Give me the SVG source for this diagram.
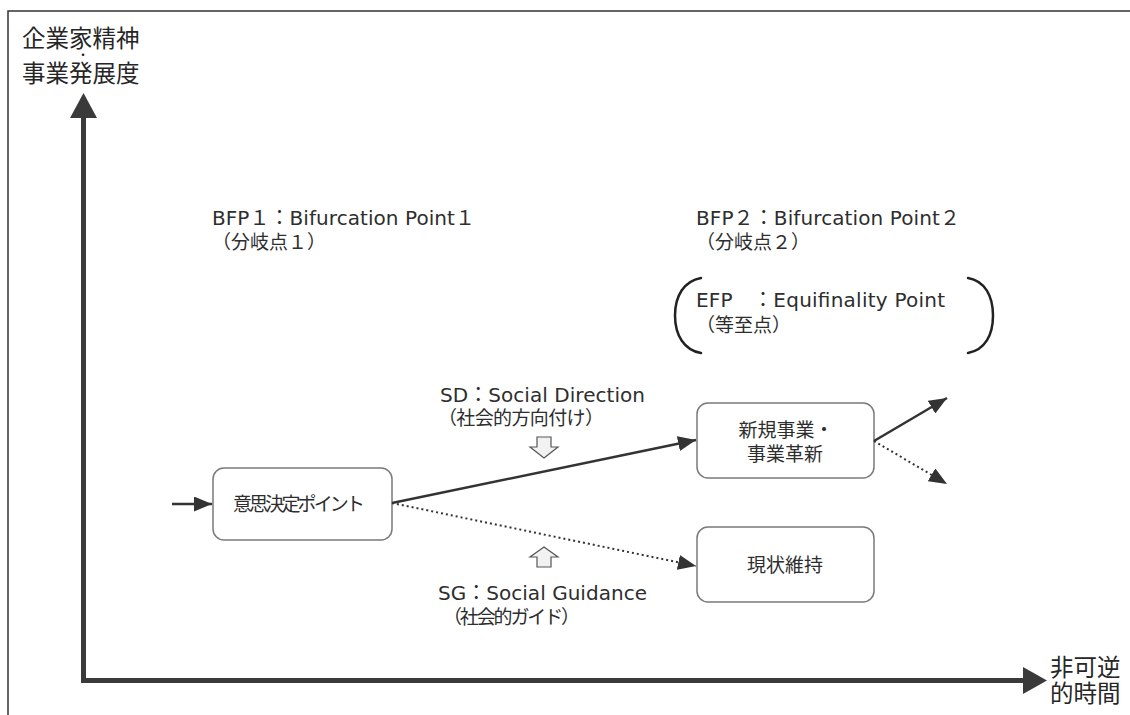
<svg xmlns="http://www.w3.org/2000/svg" width="1130" height="715" viewBox="0 0 1130 715">
  <style>
    text { font-family: "DejaVu Sans", "Noto Sans CJK JP", sans-serif; fill: #2e2e2e; }
    .lbl { font-size: 20px; }
    .jp { font-family: "Noto Sans CJK JP", sans-serif; font-size: 19px; }
    .node { font-family: "Noto Sans CJK JP", sans-serif; font-size: 19px; }
    .axis-lbl { font-family: "Noto Sans CJK JP", sans-serif; font-size: 23.5px; fill: #262626; }
    .box { fill: #ffffff; stroke: #7a7a7a; stroke-width: 1.5; }
    .solid { fill: none; stroke: #333333; stroke-width: 2.5; }
    .dotted { fill: none; stroke: #333333; stroke-width: 2; stroke-dasharray: 2 3; }
    .hollow { fill: #f2f2f2; stroke: #555555; stroke-width: 1.2; stroke-linejoin: miter; }
    .axis { fill: none; stroke: #3a3a3a; stroke-width: 5; stroke-linejoin: miter; }
    .head { fill: #3a3a3a; }
    .bracket { fill: none; stroke: #222222; stroke-width: 2.5; stroke-linecap: round; }
  </style>
  <defs>
    <marker id="arrow" markerUnits="userSpaceOnUse" markerWidth="18" markerHeight="15" refX="18" refY="7.5" orient="auto">
      <path d="M0,0 L18,7.5 L0,15 z" fill="#333333"/>
    </marker>
  </defs>

  <rect x="0" y="0" width="1130" height="715" fill="#ffffff"/>

  <!-- outer frame (top and left edges only) -->
  <path d="M8,715 L8,11 L1130,11" fill="none" stroke="#333333" stroke-width="1.5"/>

  <!-- axes -->
  <g id="axes">
    <path class="axis" d="M83.5,116 L83.5,680.5 L1025,680.5"/>
    <polygon class="head" points="83.5,93 70,118 97,118"/>
    <polygon class="head" points="1047,680.5 1023,667 1023,694"/>
    <text class="axis-lbl" x="22" y="47">企業家精神</text>
    <text class="axis-lbl" x="83" y="60" text-anchor="middle" style="font-size:12px">・</text>
    <text class="axis-lbl" x="22" y="82">事業発展度</text>
    <text class="axis-lbl" x="1050" y="676">非可逆</text>
    <text class="axis-lbl" x="1050" y="702">的時間</text>
  </g>

  <!-- point labels -->
  <g id="bfp1">
    <text class="lbl" x="212" y="225" textLength="263">BFP１：Bifurcation Point１</text>
    <text class="jp" x="212" y="249">（分岐点１）</text>
  </g>
  <g id="bfp2">
    <text class="lbl" x="696" y="225" textLength="264">BFP２：Bifurcation Point２</text>
    <text class="jp" x="696" y="249">（分岐点２）</text>
  </g>
  <g id="efp">
    <path class="bracket" d="M701,278 C684,281 675,296 675,315.5 C675,335 684,350 701,353"/>
    <path class="bracket" d="M968,278 C985,281 993,296 993,315.5 C993,335 985,350 968,353"/>
    <text class="lbl" x="696" y="307" textLength="249">EFP　：Equifinality Point</text>
    <text class="jp" x="696" y="332">（等至点）</text>
  </g>

  <!-- social influence labels -->
  <g id="sd">
    <text class="lbl" x="440" y="402" textLength="205">SD：Social Direction</text>
    <text class="jp" x="438" y="425" textLength="166">（社会的方向付け）</text>
    <polygon class="hollow" points="537,437 551,437 551,447 558,447 544,458 530,447 537,447"/>
  </g>
  <g id="sg">
    <polygon class="hollow" points="544,547 558,557 551,557 551,567 537,567 537,557 530,557"/>
    <text class="lbl" x="438" y="600" textLength="209">SG：Social Guidance</text>
    <text class="jp" x="443" y="624" textLength="137">（社会的ガイド）</text>
  </g>

  <!-- nodes -->
  <g id="decision">
    <rect class="box" x="213" y="468" width="179" height="72" rx="11"/>
    <text class="node" x="299" y="511" text-anchor="middle" textLength="132">意思決定ポイント</text>
  </g>
  <g id="innovation">
    <rect class="box" x="697" y="403" width="177" height="75" rx="11"/>
    <text class="node" x="786" y="437" text-anchor="middle">新規事業・</text>
    <text class="node" x="785" y="461" text-anchor="middle">事業革新</text>
  </g>
  <g id="status-quo">
    <rect class="box" x="697" y="527" width="177" height="75" rx="11"/>
    <text class="node" x="785" y="572" text-anchor="middle">現状維持</text>
  </g>

  <!-- connectors -->
  <g id="connectors">
    <line class="solid" x1="172" y1="504" x2="212" y2="504" marker-end="url(#arrow)"/>
    <line class="solid" x1="392" y1="503" x2="696" y2="440" marker-end="url(#arrow)"/>
    <line class="dotted" x1="392" y1="503" x2="696" y2="566" marker-end="url(#arrow)"/>
    <line class="solid" x1="874" y1="441" x2="947" y2="398" marker-end="url(#arrow)"/>
    <line class="dotted" x1="874" y1="441" x2="947" y2="484" marker-end="url(#arrow)"/>
  </g>
</svg>
